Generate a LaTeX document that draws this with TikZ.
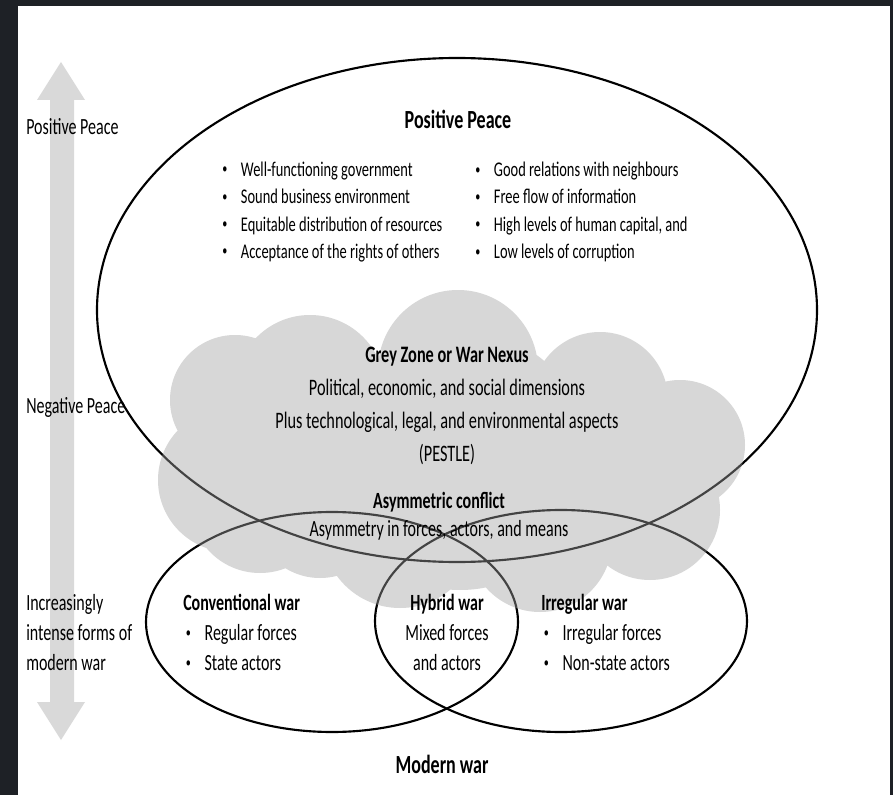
\documentclass[tikz,border=0pt]{standalone}
\usepackage{fontspec}
\setmainfont{Carlito}[FakeStretch=0.69]
\usetikzlibrary{positioning}
\definecolor{framedark}{RGB}{30,33,38}
\definecolor{arrowgrey}{RGB}{217,217,217}
\definecolor{cloudgrey}{RGB}{160,160,160}
\newcommand{\bul}[1]{\makebox[14pt][l]{\raisebox{0.12em}{\fontsize{11}{11}\selectfont\textbullet}}#1}

\begin{document}
\begin{tikzpicture}[x=0.75pt, y=-0.75pt]
\tikzstyle{sidelabel} = [anchor=west, align=left, inner sep=0pt, font=\fontsize{17.4}{22.5}\selectfont]
\tikzstyle{title} = [inner sep=0pt, font=\fontsize{19.6}{22}\selectfont\bfseries]
\tikzstyle{listing} = [anchor=west, align=left, inner sep=0pt, font=\fontsize{15.7}{20.5}\selectfont]
\tikzstyle{warbox} = [align=left, inner sep=0pt, font=\fontsize{17.4}{22.5}\selectfont]
\tikzstyle{ring} = [draw, line width=1.6pt]

% frame and page
\fill[framedark] (0,0) rectangle (893,795);
\fill[white] (18,6) rectangle (890,795);

% grey double arrow on the left
\fill[arrowgrey] (61,62) -- (85,100) -- (74,100) -- (74,702) -- (85,702) -- (61,740)
  -- (37,702) -- (50,702) -- (50,100) -- (37,100) -- cycle;

% ellipses
\draw[ring] (457,310) ellipse [x radius=360, y radius=252];
\draw[ring] (332,622) ellipse [x radius=186, y radius=110];
\draw[ring] (561,621) ellipse [x radius=186, y radius=111];

% grey zone cloud
\fill[cloudgrey, fill opacity=0.42]
  (458,370) circle [radius=80]
  (310,390) circle [radius=75]
  (235,400) circle [radius=65]
  (230,480) circle [radius=72]
  (260,503) circle [radius=70]
  (320,512) circle [radius=66]
  (400,530) circle [radius=78]
  (540,540) circle [radius=72]
  (650,510) circle [radius=70]
  (680,445) circle [radius=65]
  (600,400) circle [radius=68]
  (330,465) circle [radius=70]
  (590,470) circle [radius=70]
  (460,460) circle [radius=130];

% side labels
\node[sidelabel] (pospeace) at (26,127) {Positive Peace};
\node[sidelabel] (negpeace) at (26,407) {Negative Peace};
\node[sidelabel] (intense) at (26,633) {Increasingly\\intense forms of\\modern war};

% positive peace
\node[title] (pptitle) at (458,119) {Positive Peace};
\node[listing] (ppleft) at (222,212) {\bul{Well-functioning government}\\
  \bul{Sound business environment}\\
  \bul{Equitable distribution of resources}\\
  \bul{Acceptance of the rights of others}};
\node[listing] (ppright) at (475,212) {\bul{Good relations with neighbours}\\
  \bul{Free flow of information}\\
  \bul{High levels of human capital, and}\\
  \bul{Low levels of corruption}};

% grey zone
\node[warbox, align=center, font=\fontsize{17.7}{24.75}\selectfont] (greyzone) at (447,406)
  {\textbf{Grey Zone or War Nexus}\\Political, economic, and social dimensions\\
   Plus technological, legal, and environmental aspects\\(PESTLE)};
\node[warbox, align=center, font=\fontsize{17.4}{21}\selectfont] (asym) at (439,516)
  {\textbf{Asymmetric conflict}\\Asymmetry in forces, actors, and means};

% modern war
\node[warbox, anchor=west] (conv) at (183,632)
  {\textbf{Conventional war}\\\hspace*{2pt}\bul{Regular forces}\\\hspace*{2pt}\bul{State actors}};
\node[warbox, align=center] (hybrid) at (447,632)
  {\textbf{Hybrid war}\\Mixed forces\\and actors};
\node[warbox, anchor=west] (irreg) at (541,632)
  {\textbf{Irregular war}\\\hspace*{2pt}\bul{Irregular forces}\\\hspace*{2pt}\bul{Non-state actors}};
\node[title] (modern) at (442,764) {Modern war};
\end{tikzpicture}
\end{document}
